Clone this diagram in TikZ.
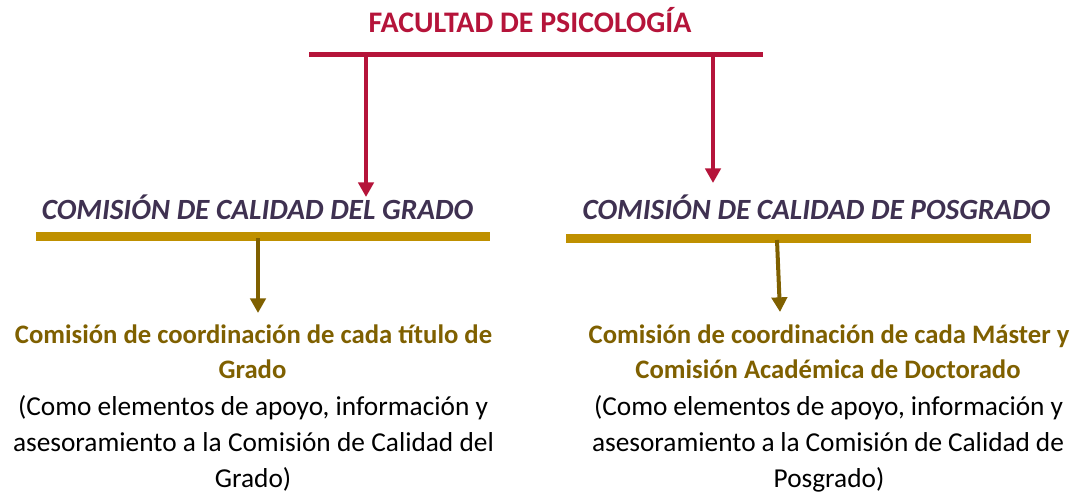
\documentclass[tikz,border=0pt]{standalone}
\usepackage{fontspec}
\setmainfont{Carlito}
\usetikzlibrary{arrows.meta}
\definecolor{crimson}{RGB}{181,20,58}
\definecolor{goldbar}{RGB}{191,144,0}
\definecolor{brownish}{RGB}{127,96,0}
\definecolor{headpurple}{RGB}{63,49,81}
\begin{document}
\begin{tikzpicture}[x=0.75pt,y=-0.75pt,
  titletext/.style={font=\fontsize{22.4}{26}\selectfont\bfseries, text=crimson, anchor=base, inner sep=0pt},
  headtext/.style={font=\fontsize{22}{26}\selectfont\bfseries\itshape, text=headpurple, anchor=base, inner sep=0pt},
  subtext/.style={font=\fontsize{20}{26}\selectfont\bfseries, text=brownish, anchor=base, inner sep=0pt},
  bodytext/.style={font=\fontsize{20.5}{26}\selectfont, text=black, anchor=base, inner sep=0pt},
  redbar/.style={crimson, line width=3.75pt},
  yellowbar/.style={goldbar, line width=6.5pt},
  redarrow/.style={crimson, line width=3pt, -{Triangle[width=11.5pt,length=11pt]}},
  brownarrow/.style={brownish, line width=3pt, -{Triangle[width=11.5pt,length=11pt]}}]
\useasboundingbox (0,0) rectangle (1077,497);
% title
\node[titletext] (title) at (530,32) {FACULTAD DE PSICOLOGÍA};
\coordinate (rbL) at (309,54.5);
\coordinate (rbR) at (763,54.5);
\draw[redbar] (rbL) -- (rbR);
% headings
\node[headtext] (gradohead) at (257.5,219) {COMISIÓN DE CALIDAD DEL GRADO};
\node[headtext] (posghead) at (816.5,219) {COMISIÓN DE CALIDAD DE POSGRADO};
% red arrows
\coordinate (ra1s) at (366,56);
\coordinate (ra1e) at (366,197);
\coordinate (ra2s) at (713,56);
\coordinate (ra2e) at (713,183);
\draw[redarrow] (ra1s) -- (ra1e);
\draw[redarrow] (ra2s) -- (ra2e);
% gold bars
\coordinate (gbL1) at (36,236.5);
\coordinate (gbR1) at (490,236.5);
\coordinate (gbL2) at (566,238.5);
\coordinate (gbR2) at (1031,238.5);
\draw[yellowbar] (gbL1) -- (gbR1);
\draw[yellowbar] (gbL2) -- (gbR2);
% brown arrows
\coordinate (ba1s) at (258,238);
\coordinate (ba1e) at (258,313);
\coordinate (ba2s) at (777,240);
\coordinate (ba2e) at (780,312);
\draw[brownarrow] (ba1s) -- (ba1e);
\draw[brownarrow] (ba2s) -- (ba2e);
% left block
\node[subtext] (l1) at (253.5,343) {Comisión de coordinación de cada título de};
\node[subtext] (l2) at (252.5,378) {Grado};
\node[bodytext] (l3) at (253,415) {\makebox[352.5pt][s]{(Como elementos de apoyo, información y}};
\node[bodytext] (l4) at (253.5,451) {\makebox[360.75pt][s]{asesoramiento a la Comisión de Calidad del}};
\node[bodytext] (l5) at (253,487) {Grado)};
% right block
\node[subtext] (r1) at (829,343) {Comisión de coordinación de cada Máster y};
\node[subtext] (r2) at (828,378) {Comisión Académica de Doctorado};
\node[bodytext] (r3) at (828.5,415) {\makebox[351.75pt][s]{(Como elementos de apoyo, información y}};
\node[bodytext] (r4) at (828,451) {\makebox[354pt][s]{asesoramiento a la Comisión de Calidad de}};
\node[bodytext] (r5) at (829,487) {Posgrado)};
\end{tikzpicture}
\end{document}
